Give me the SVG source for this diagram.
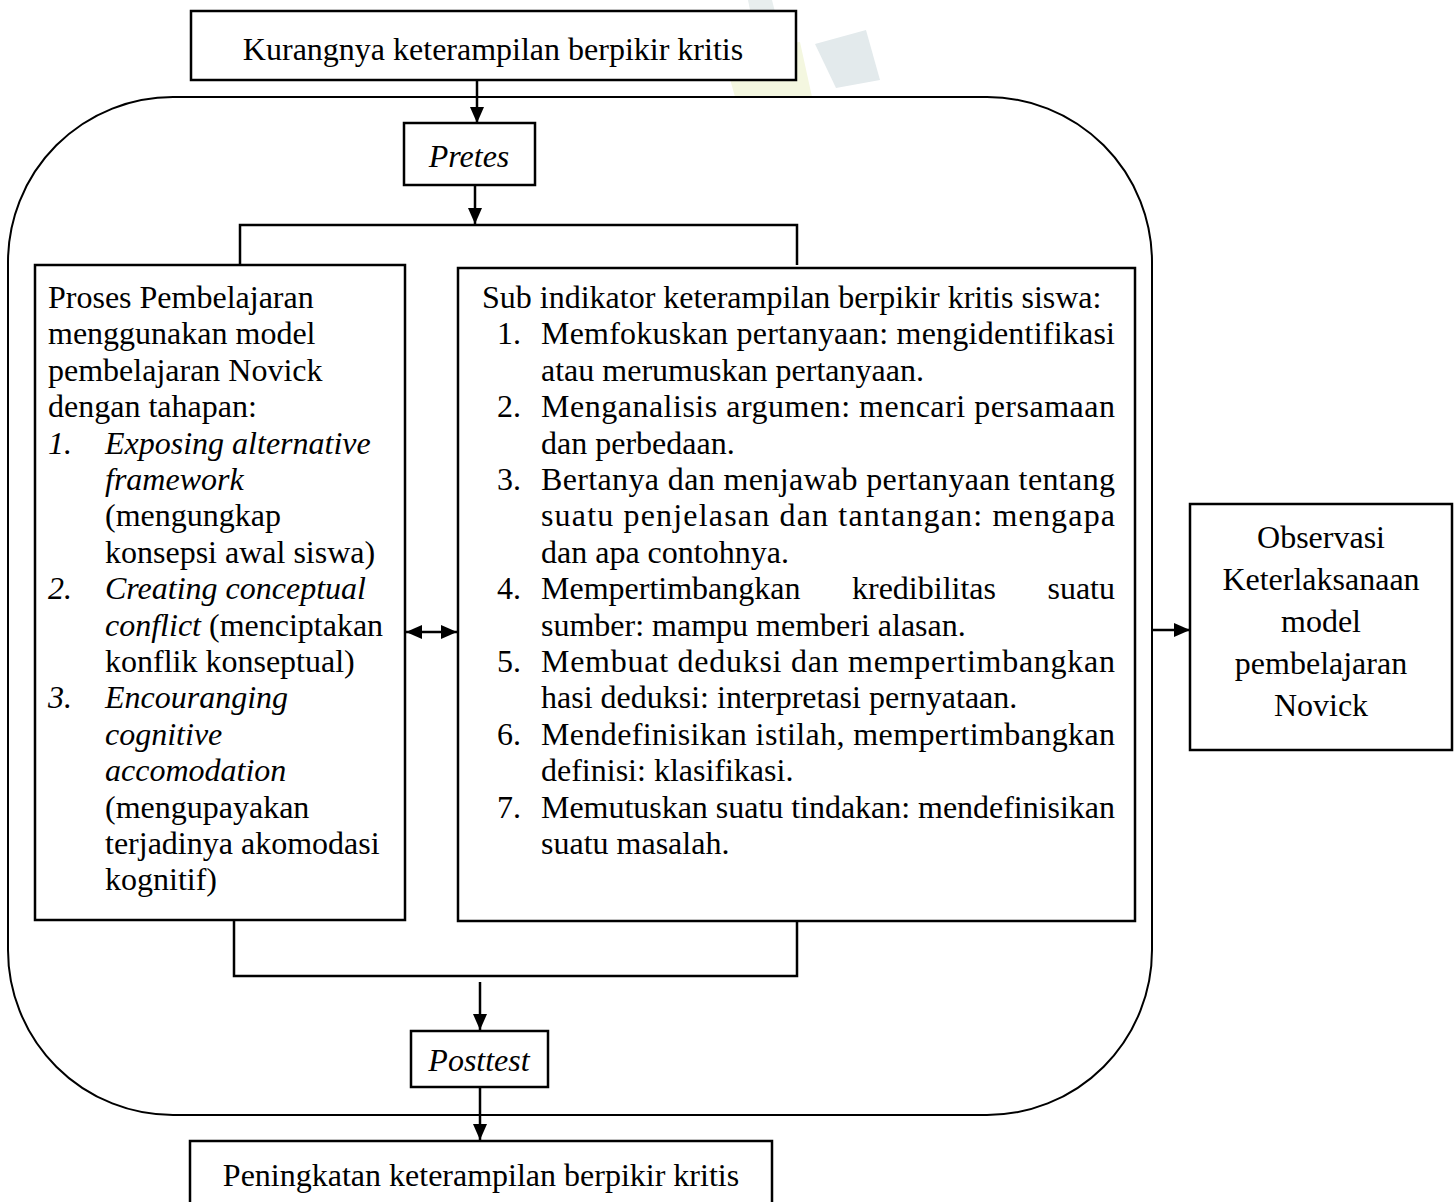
<svg xmlns="http://www.w3.org/2000/svg" width="1456" height="1202" viewBox="0 0 1456 1202">
<defs>
<marker id="ah" markerWidth="16" markerHeight="14" refX="16" refY="7" orient="auto-start-reverse" markerUnits="userSpaceOnUse" viewBox="0 0 16 14">
<path d="M0,0 L16,7 L0,14 Z" fill="#000"/>
</marker>
<style>
.box{fill:#fff;stroke:#000;stroke-width:2.5}
.ln{fill:none;stroke:#000;stroke-width:2.5}
.t{font-family:"Liberation Serif","Times New Roman",serif;font-size:32px;fill:#000}
.i{font-style:italic}
.c{text-anchor:middle}
</style>
</defs>
<rect width="1456" height="1202" fill="#fff"/>
<g id="watermark">
<polygon points="722,50 800,42 812,97 735,97" fill="#f4f7e0"/>
<polygon points="748,0 772,0 776,16 752,20" fill="#e8eeee"/>
<polygon points="815,44 866,30 880,80 836,88" fill="#e3eaec"/>
</g>
<g id="outer"><rect x="8" y="97" width="1144" height="1018" rx="165" ry="165" fill="none" stroke="#000" stroke-width="2"/></g>
<g id="connectors">
<line class="ln" x1="477" y1="80" x2="477" y2="123" marker-end="url(#ah)"/>
<line class="ln" x1="475" y1="185" x2="475" y2="224" marker-end="url(#ah)"/>
<polyline class="ln" points="240,265 240,225 797,225 797,265"/>
<line class="ln" x1="406" y1="632" x2="457" y2="632" marker-start="url(#ah)" marker-end="url(#ah)"/>
<line class="ln" x1="1153" y1="630" x2="1190" y2="630" marker-end="url(#ah)"/>
<polyline class="ln" points="234,920 234,976 797,976 797,921"/>
<line class="ln" x1="480" y1="982" x2="480" y2="1030" marker-end="url(#ah)"/>
<line class="ln" x1="480" y1="1087" x2="480" y2="1140" marker-end="url(#ah)"/>
</g>
<g id="n-top">
<rect class="box" x="191" y="11" width="605" height="69"/>
<text class="t c" x="493" y="60">Kurangnya keterampilan berpikir kritis</text>
</g>
<g id="n-pretes">
<rect class="box" x="404" y="123" width="131" height="62"/>
<text class="t c i" x="469" y="167">Pretes</text>
</g>
<g id="n-proses">
<rect class="box" x="35" y="265" width="370" height="655"/>
<text class="t" x="48" y="308">Proses Pembelajaran</text>
<text class="t" x="48" y="344">menggunakan model</text>
<text class="t" x="48" y="381">pembelajaran Novick</text>
<text class="t" x="48" y="417">dengan tahapan:</text>
<text class="t i" x="48" y="454">1.</text>
<text class="t i" x="105" y="454">Exposing alternative</text>
<text class="t i" x="105" y="490">framework</text>
<text class="t" x="105" y="526">(mengungkap</text>
<text class="t" x="105" y="563">konsepsi awal siswa)</text>
<text class="t i" x="48" y="599">2.</text>
<text class="t i" x="105" y="599">Creating conceptual</text>
<text class="t" x="105" y="636"><tspan class="i">conflict</tspan> (menciptakan</text>
<text class="t" x="105" y="672">konflik konseptual)</text>
<text class="t i" x="48" y="708">3.</text>
<text class="t i" x="105" y="708">Encouranging</text>
<text class="t i" x="105" y="745">cognitive</text>
<text class="t i" x="105" y="781">accomodation</text>
<text class="t" x="105" y="818">(mengupayakan</text>
<text class="t" x="105" y="854">terjadinya akomodasi</text>
<text class="t" x="105" y="890">kognitif)</text>
</g>
<g id="n-indikator">
<rect class="box" x="458" y="268" width="677" height="653"/>
<text class="t" x="482" y="308">Sub indikator keterampilan berpikir kritis siswa:</text>
<text class="t" x="497" y="344">1.</text>
<text class="t" x="541" y="344" textLength="574" lengthAdjust="spacing">Memfokuskan pertanyaan: mengidentifikasi</text>
<text class="t" x="541" y="381">atau merumuskan pertanyaan.</text>
<text class="t" x="497" y="417">2.</text>
<text class="t" x="541" y="417" textLength="574" lengthAdjust="spacing">Menganalisis argumen: mencari persamaan</text>
<text class="t" x="541" y="454">dan perbedaan.</text>
<text class="t" x="497" y="490">3.</text>
<text class="t" x="541" y="490" textLength="574" lengthAdjust="spacing">Bertanya dan menjawab pertanyaan tentang</text>
<text class="t" x="541" y="526" textLength="574" lengthAdjust="spacing">suatu penjelasan dan tantangan: mengapa</text>
<text class="t" x="541" y="563">dan apa contohnya.</text>
<text class="t" x="497" y="599">4.</text>
<text class="t" x="541" y="599">Mempertimbangkan</text>
<text class="t" x="852" y="599">kredibilitas</text>
<text class="t" x="1115" y="599" text-anchor="end">suatu</text>
<text class="t" x="541" y="636">sumber: mampu memberi alasan.</text>
<text class="t" x="497" y="672">5.</text>
<text class="t" x="541" y="672" textLength="574" lengthAdjust="spacing">Membuat deduksi dan mempertimbangkan</text>
<text class="t" x="541" y="708">hasi deduksi: interpretasi pernyataan.</text>
<text class="t" x="497" y="745">6.</text>
<text class="t" x="541" y="745" textLength="574" lengthAdjust="spacing">Mendefinisikan istilah, mempertimbangkan</text>
<text class="t" x="541" y="781">definisi: klasifikasi.</text>
<text class="t" x="497" y="818">7.</text>
<text class="t" x="541" y="818" textLength="574" lengthAdjust="spacing">Memutuskan suatu tindakan: mendefinisikan</text>
<text class="t" x="541" y="854">suatu masalah.</text>
</g>
<g id="n-observasi">
<rect class="box" x="1190" y="504" width="262" height="246"/>
<text class="t c" x="1321" y="548">Observasi</text>
<text class="t c" x="1321" y="590">Keterlaksanaan</text>
<text class="t c" x="1321" y="632">model</text>
<text class="t c" x="1321" y="674">pembelajaran</text>
<text class="t c" x="1321" y="716">Novick</text>
</g>
<g id="n-posttest">
<rect class="box" x="411" y="1031" width="137" height="56"/>
<text class="t c i" x="479" y="1071">Posttest</text>
</g>
<g id="n-bottom">
<rect class="box" x="190" y="1141" width="582" height="70"/>
<text class="t c" x="481" y="1186">Peningkatan keterampilan berpikir kritis</text>
</g>
</svg>
